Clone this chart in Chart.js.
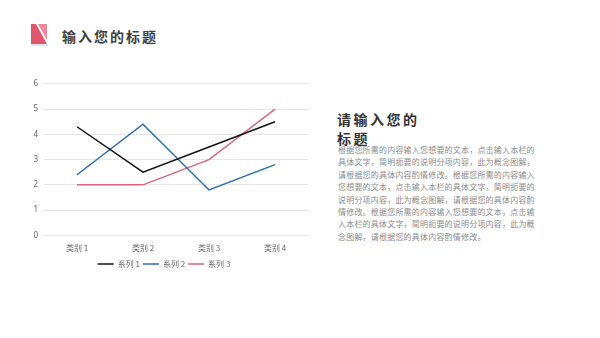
<!DOCTYPE html>
<html>
<head>
<meta charset="utf-8">
<script src="https://cdn.jsdelivr.net/npm/chart.js@4"></script>
<style>
  html, body { margin: 0; padding: 0; background: #fff; }
  body { width: 600px; height: 338px; position: relative; overflow: hidden;
         font-family: "Noto Sans CJK SC", "Noto Sans", sans-serif; }
  #logo { position: absolute; left: 31px; top: 24px; }
  #title { position: absolute; left: 62px; top: 26px; font-size: 14px; font-weight: 700;
           letter-spacing: 2px; color: #404040; line-height: 20px; }
  #chartBox { position: absolute; left: 20px; top: 73px; width: 300px; height: 205px; }
  #sideTitle { position: absolute; left: 337px; top: 110px; font-size: 14px; font-weight: 700;
               letter-spacing: 2.5px; color: #333; line-height: 19px; }
  #sideText { position: absolute; left: 338px; top: 144px; width: 200px; font-size: 8px;
              letter-spacing: 0.2px; color: #8a8a8a; line-height: 12.4px; }
</style>
</head>
<body>
<svg id="logo" width="17" height="22" viewBox="0 0 17 22">
  <polygon points="0,0 5,0 16,20 0,20" fill="#e0566c"/>
  <polygon points="7,0 16,0 16,16" fill="#ee8a9c"/>
  <rect x="0" y="20" width="17" height="2" fill="#d6d6ee" opacity="0.7"/>
</svg>
<div id="title">输入您的标题</div>

<div id="chartBox"><canvas id="lineChart"></canvas></div>

<div id="sideTitle">请输入您的<br>标题</div>
<div id="sideText">
  <div>根据您所需的内容输入您想要的文本，点击输入本栏的</div>
  <div>具体文字，简明扼要的说明分项内容，此为概念图解，</div>
  <div>请根据您的具体内容酌情修改。根据您所需的内容输入</div>
  <div>您想要的文本，点击输入本栏的具体文字，简明扼要的</div>
  <div>说明分项内容，此为概念图解，请根据您的具体内容酌</div>
  <div>情修改。根据您所需的内容输入您想要的文本，点击输</div>
  <div>入本栏的具体文字，简明扼要的说明分项内容，此为概</div>
  <div>念图解，请根据您的具体内容酌情修改。</div>
</div>

<script>
const categories = ['类别 1', '类别 2', '类别 3', '类别 4'];
const series1 = [4.3, 2.5, 3.5, 4.5];
const series2 = [2.4, 4.4, 1.8, 2.8];
const series3 = [2, 2, 3, 5];
const seriesNames = ['系列 1', '系列 2', '系列 3'];
const seriesColors = ['#111111', '#2a6db5', '#d9657e'];

const seriesData = [series1, series2, series3];

document.addEventListener('DOMContentLoaded', function () {
    const ctx = document.getElementById('lineChart').getContext('2d');

    const datasets = seriesData.map(function (values, i) {
        return {
            label: seriesNames[i],
            data: values,
            borderColor: seriesColors[i],
            backgroundColor: seriesColors[i],
            borderWidth: 1.5,
            fill: false,
            tension: 0,
            pointRadius: 0
        };
    });

    new Chart(ctx, {
        type: 'line',
        data: {
            labels: categories,
            datasets: datasets
        },
        options: {
            responsive: true,
            maintainAspectRatio: false,
            animation: false,
            layout: {
                padding: { left: 0, right: 12, top: 7, bottom: 0 }
            },
            plugins: {
                tooltip: { enabled: false },
                legend: {
                    position: 'bottom',
                    // blank title only adds a little space above the legend items
                    title: {
                        display: true,
                        text: ' ',
                        padding: 0,
                        font: { size: 4, lineHeight: 1 }
                    },
                    labels: {
                        usePointStyle: true,
                        pointStyle: 'line',
                        pointStyleWidth: 16,
                        boxHeight: 6,
                        padding: 3,
                        color: '#666',
                        font: { size: 8, family: '"Noto Sans CJK SC", sans-serif' }
                    }
                }
            },
            scales: {
                x: {
                    offset: true,
                    grid: { display: false },
                    border: { display: false },
                    ticks: {
                        color: '#666',
                        padding: 0,
                        font: { size: 8, family: '"Noto Sans CJK SC", sans-serif' }
                    }
                },
                y: {
                    min: 0,
                    max: 6,
                    afterFit: function (scale) { scale.width = 24; },
                    ticks: {
                        stepSize: 1,
                        color: '#666',
                        padding: 6,
                        font: { size: 8, family: '"Noto Sans", sans-serif' }
                    },
                    grid: { color: '#e6e6e6', drawTicks: false, lineWidth: 1 },
                    border: { display: false }
                }
            }
        }
    });
});
</script>
</body>
</html>
